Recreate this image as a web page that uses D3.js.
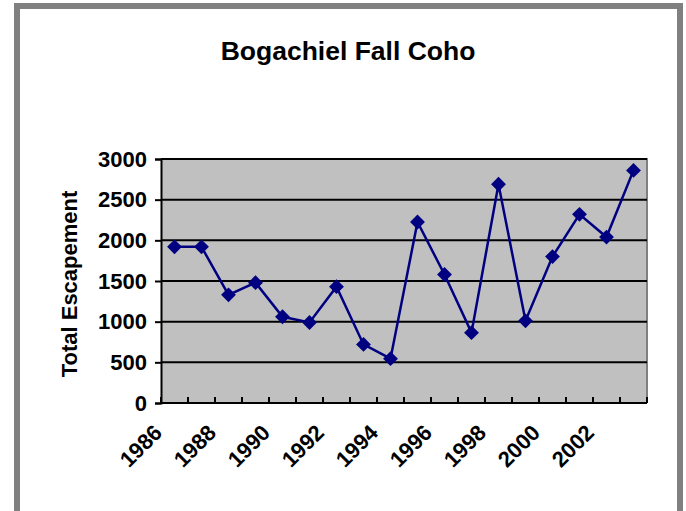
<!DOCTYPE html>
<html><head><meta charset="utf-8">
<script src="https://cdn.jsdelivr.net/npm/d3@7"></script>
<style>html,body{margin:0;padding:0;background:#fff;}svg{display:block;}</style>
</head><body>
<script>
const years = [1986,1987,1988,1989,1990,1991,1992,1993,1994,1995,1996,1997,1998,1999,2000,2001,2002,2003];
const escapement = [1920,1920,1330,1480,1060,990,1430,720,545,2225,1580,865,2690,1010,1800,2320,2040,2860];
const yTicks = [0,500,1000,1500,2000,2500,3000];
const xLabelYears = [1986,1988,1990,1992,1994,1996,1998,2000,2002];
const title = "Bogachiel Fall Coho";
const yTitle = "Total Escapement";

const W=686,H=511;
const svg=d3.select("body").append("svg").attr("width",W).attr("height",H);
const font="'Liberation Sans', Arial, sans-serif";
svg.append("rect").attr("width",W).attr("height",H).attr("fill","#fff");
// outer frame
svg.append("rect").attr("x",17).attr("y",6).attr("width",663).attr("height",H+20)
  .attr("fill","none").attr("stroke","#808080").attr("stroke-width",6);

const L=161,R=647,T=159,B=403;
const x=d3.scaleBand().domain(years).range([L,R]).padding(0);
const y=d3.scaleLinear().domain([0,3000]).range([B,T]);

svg.append("rect").attr("x",L).attr("y",T).attr("width",R-L).attr("height",B-T).attr("fill","#C0C0C0");
svg.append("path").attr("d",`M${L},${T}H${R}V${B}`).attr("fill","none").attr("stroke","#808080").attr("stroke-width",2);
svg.append("g").selectAll("line").data(yTicks.filter(d=>d>0)).join("line")
  .attr("x1",L).attr("x2",R).attr("y1",d=>y(d)).attr("y2",d=>y(d))
  .attr("stroke","#000").attr("stroke-width",2);

const ya=svg.append("g").attr("transform",`translate(${L},0)`)
  .call(d3.axisLeft(y).tickValues(yTicks).tickSize(6).tickPadding(8).tickFormat(d3.format("d")));
ya.select(".domain").attr("stroke","#000").attr("stroke-width",2);
ya.selectAll(".tick line").attr("stroke","#000").attr("stroke-width",2);
ya.selectAll("text").attr("font-family",font).attr("font-weight","bold").attr("font-size","22px").attr("fill","#000");

const xa=svg.append("g").attr("transform",`translate(0,${B})`);
xa.append("line").attr("x1",L).attr("x2",R).attr("stroke","#000").attr("stroke-width",2);
const bounds=years.map(d=>x(d)).concat([R]);
xa.selectAll(".tk").data(bounds).join("line").attr("class","tk")
  .attr("x1",d=>d).attr("x2",d=>d).attr("y1",0).attr("y2",-6).attr("stroke","#000").attr("stroke-width",2);
xa.selectAll(".xl").data(xLabelYears).join("text").attr("class","xl")
  .attr("transform",d=>`translate(${x(d)+x.bandwidth()/2-11},${31}) rotate(-45)`)
  .attr("text-anchor","end")
  .attr("font-family",font).attr("font-weight","bold").attr("font-size","22px").attr("fill","#000")
  .text(d=>d);

const cx=d=>x(d)+x.bandwidth()/2;
svg.append("path").datum(years.map((yr,i)=>[cx(yr),y(escapement[i])]))
  .attr("d",d3.line()).attr("fill","none").attr("stroke","#000080").attr("stroke-width",2.5);
svg.append("g").selectAll("path").data(years).join("path")
  .attr("d",d3.symbol(d3.symbolSquare,110))
  .attr("transform",(d,i)=>`translate(${cx(d)},${y(escapement[i])}) rotate(45)`)
  .attr("fill","#000080");

svg.append("text").attr("x",348).attr("y",60).attr("text-anchor","middle")
  .attr("font-family",font).attr("font-weight","bold").attr("font-size","26.5px").text(title);
svg.append("text").attr("transform","translate(77,284) rotate(-90)").attr("text-anchor","middle")
  .attr("font-family",font).attr("font-weight","bold").attr("font-size","22px").text(yTitle);
</script>
</body></html>
